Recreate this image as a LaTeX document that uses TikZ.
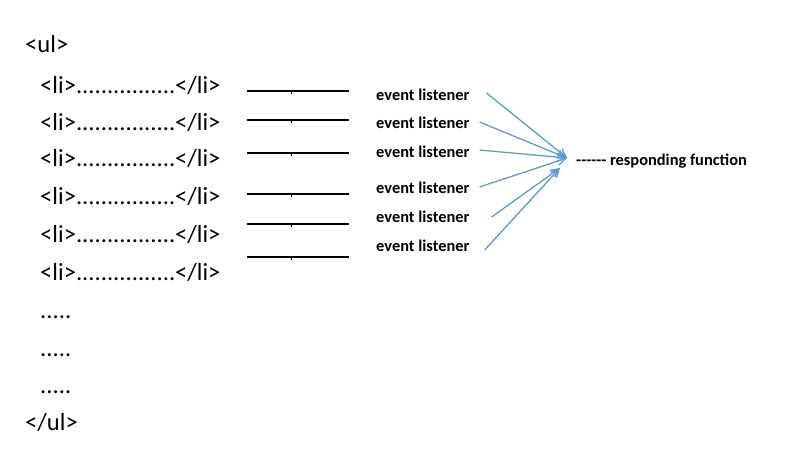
\documentclass[tikz,border=0pt]{standalone}
\usepackage{fontspec}
\setmainfont{Carlito}
\usetikzlibrary{positioning}
\usetikzlibrary{arrows.meta}
\definecolor{officeblue}{RGB}{91,155,213}

\tikzset{
  tag/.style={anchor=base west, inner sep=0pt, font=\fontsize{21}{24}\selectfont},
  listener/.style={anchor=base west, inner sep=0pt, font=\fontsize{14}{17}\selectfont\bfseries},
  wire/.style={line width=1.6pt, black},
  link/.style={officeblue, line width=1.1pt, -{Straight Barb[length=7pt,width=7pt]}}
}

\begin{document}
\begin{tikzpicture}[x=0.03cm, y=-0.03cm]
   \useasboundingbox (0,0) rectangle (800,475);
   % the list
   \node[tag] (ul_open) at (25,53) {<ul>};
   \node[tag] (li_1) at (40,93) {<li>................</li>};
   \node[tag] (li_2) at (40,130) {<li>................</li>};
   \node[tag] (li_3) at (40,166) {<li>................</li>};
   \node[tag] (li_4) at (40,204) {<li>................</li>};
   \node[tag] (li_5) at (40,242) {<li>................</li>};
   \node[tag] (li_6) at (40,280) {<li>................</li>};
   \node[tag] (dots_1) at (40,318) {.....};
   \node[tag] (dots_2) at (40,356) {.....};
   \node[tag] (dots_3) at (40,393) {.....};
   \node[tag] (ul_close) at (25,430) {</ul>};
   % lines
   \foreach \y [count=\i] in {91,120,153,194,224,257} {
     \coordinate (w_\i_a) at (247,\y);
     \coordinate (w_\i_b) at (349,\y);
     \draw[wire] (w_\i_a) -- (w_\i_b);
     \draw[line width=0.8pt] (291,\y) -- ++(0,3);
   }
   % listeners
   \node[listener] (ev_1) at (376,100) {event listener};
   \node[listener] (ev_2) at (376,128) {event listener};
   \node[listener] (ev_3) at (376,157) {event listener};
   \node[listener] (ev_4) at (376,193) {event listener};
   \node[listener] (ev_5) at (376,222) {event listener};
   \node[listener] (ev_6) at (376,251) {event listener};
   \node[listener] (resp) at (576,165)
     {\mbox{-}\mbox{-}\mbox{-}\mbox{-}\mbox{-}\mbox{-} responding function};
   \coordinate (hub_a) at (567,158);
   \coordinate (hub_b) at (560,168);
   \draw[link] ([xshift=0.51cm,yshift=0.21cm]ev_1.base east) -- (hub_a);
   \draw[link] ([xshift=0.3cm,yshift=0.18cm]ev_2.base east) -- (hub_a);
   \draw[link] ([xshift=0.3cm,yshift=0.21cm]ev_3.base east) -- (hub_a);
   \draw[link] ([xshift=0.3cm,yshift=0.18cm]ev_4.base east) -- (hub_a);
   \draw[link] ([xshift=0.66cm,yshift=0.15cm]ev_5.base east) -- (hub_b);
   \draw[link] ([xshift=0.45cm,yshift=0.03cm]ev_6.base east) -- (hub_b);
\end{tikzpicture}
\end{document}
